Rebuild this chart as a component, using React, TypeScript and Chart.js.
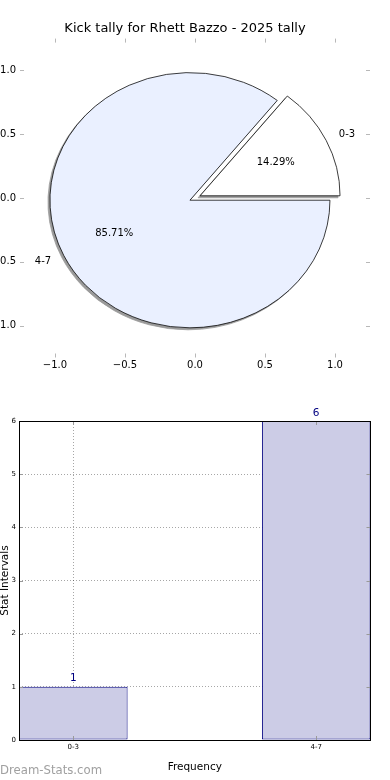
import { useEffect, useRef } from "react";
import { Chart, registerables } from "chart.js";

Chart.register(...registerables);

const FONT = "'DejaVu Sans', 'Liberation Sans', sans-serif";

// ---------------- data ----------------
const categories = ["0-3", "4-7"];
const counts = [1, 6];
const pieTitle = "Kick tally for Rhett Bazzo - 2025 tally";
const pieColors = ["#ffffff", "#eaf0ff"];
const barXLabel = "Frequency";
const barYLabel = "Stat Intervals";
const watermark = "Dream-Stats.com";
const pieAxisMin = -1.25;
const pieAxisMax = 1.25;
const pieAxisTicks = [-1.0, -0.5, 0.0, 0.5, 1.0];
const barYMin = 0;
const barYMax = 6;
const barYTicks = [0, 1, 2, 3, 4, 5, 6];

// ---------------- styles ----------------
const EXPLODE = 0.04; // fraction of radius
const PIE_R = 140;
const PIE_SY = 127.6 / 140;
const BAR_HALF = 0.2235;

// pie drawn counter-clockwise from 3 o'clock like the original: feed reversed order
const pieOrder = [1, 0];
const pieLabels = pieOrder.map((i) => categories[i]);
const pieValues = pieOrder.map((i) => counts[i]);
const pieBg = pieOrder.map((i) => pieColors[i]);

const fmtSigned = (v: number) => (v < 0 ? "\u2212" : "") + Math.abs(v).toFixed(1);

const innerTicks = (id: string, len: number, color: string) => ({
  id,
  afterDraw(chart: any) {
    const { ctx, chartArea } = chart;
    const { left, right, top, bottom } = chartArea;
    const xs = chart.scales.x;
    const ys = chart.scales.y;
    ctx.save();
    ctx.strokeStyle = color;
    ctx.lineWidth = 1;
    ctx.beginPath();
    xs.ticks.forEach((t: any) => {
      const p = Math.round(xs.getPixelForValue(t.value)) + 0.5;
      ctx.moveTo(p, top);
      ctx.lineTo(p, top + len);
      ctx.moveTo(p, bottom);
      ctx.lineTo(p, bottom - len);
    });
    ys.ticks.forEach((t: any) => {
      const p = Math.round(ys.getPixelForValue(t.value)) + 0.5;
      ctx.moveTo(left, p);
      ctx.lineTo(left + len, p);
      ctx.moveTo(right, p);
      ctx.lineTo(right - len, p);
    });
    ctx.stroke();
    ctx.restore();
  },
});

const pieTransform = (ctx: any, cx: number, cy: number, mid: number, e: number) => {
  ctx.translate(cx, cy);
  ctx.scale(1, PIE_SY);
  ctx.translate(Math.cos(mid) * e, Math.sin(mid) * e);
  ctx.translate(-cx, -cy);
};

const arcProps = (arc: any) =>
  arc.getProps(["x", "y", "startAngle", "endAngle", "outerRadius"], true);

const piePlugin = {
  id: "ellipsePie",
  beforeDatasetsDraw(chart: any) {
    const ctx = chart.ctx;
    const arcs = chart.getDatasetMeta(0).data;
    arcs.forEach((arc: any) => {
      const { x, y, startAngle, endAngle, outerRadius } = arcProps(arc);
      const mid = (startAngle + endAngle) / 2;
      ctx.save();
      ctx.translate(-10000, 0);
      ctx.shadowColor = "#9a9a9a";
      ctx.shadowOffsetX = 10000 - 2;
      ctx.shadowOffsetY = 2;
      ctx.shadowBlur = 0;
      pieTransform(ctx, x, y, mid, EXPLODE * outerRadius);
      arc.draw(ctx);
      ctx.restore();
    });
    arcs.forEach((arc: any) => {
      const { x, y, startAngle, endAngle, outerRadius } = arcProps(arc);
      const mid = (startAngle + endAngle) / 2;
      ctx.save();
      pieTransform(ctx, x, y, mid, EXPLODE * outerRadius);
      arc.draw(ctx);
      ctx.restore();
    });
    return false;
  },
  afterDraw(chart: any) {
    const ctx = chart.ctx;
    const arcs = chart.getDatasetMeta(0).data;
    const total = pieValues.reduce((a, b) => a + b, 0);
    ctx.save();
    ctx.fillStyle = "#000";
    ctx.font = `10px ${FONT}`;
    ctx.textBaseline = "middle";
    arcs.forEach((arc: any, i: number) => {
      const { x, y, startAngle, endAngle, outerRadius } = arcProps(arc);
      const mid = (startAngle + endAngle) / 2;
      const ux = Math.cos(mid);
      const uy = Math.sin(mid);
      const e = EXPLODE * outerRadius;
      const at = (f: number) => [
        x + (e + f * outerRadius) * ux,
        y + (e + f * outerRadius) * uy * PIE_SY,
      ];
      const [px, py] = at(0.6);
      ctx.textAlign = "center";
      ctx.fillText(((pieValues[i] / total) * 100).toFixed(2) + "%", px, py);
      const [lx, ly] = at(1.1);
      ctx.textAlign = ux >= 0 ? "left" : "right";
      ctx.fillText(pieLabels[i], lx, ly);
    });
    ctx.restore();
  },
};

const barDecor = {
  id: "barDecor",
  afterDraw(chart: any) {
    const { ctx, chartArea } = chart;
    const { left, right, top, bottom } = chartArea;
    ctx.save();
    ctx.strokeStyle = "#000";
    ctx.lineWidth = 1;
    ctx.strokeRect(left + 0.5, top + 0.5, right - left - 0.5, bottom - top);
    ctx.fillStyle = "#000080";
    ctx.font = `10.5px ${FONT}`;
    ctx.textAlign = "center";
    ctx.textBaseline = "alphabetic";
    chart.getDatasetMeta(0).data.forEach((bar: any, i: number) => {
      const { x, y } = bar.getProps(["x", "y"], true);
      ctx.fillText(String(counts[i]), x, y - 5.5);
    });
    ctx.fillStyle = "#a0a0a0";
    ctx.font = `11.7px ${FONT}`;
    ctx.textAlign = "left";
    ctx.fillText(watermark, 0, chart.height - 6.5);
    ctx.restore();
  },
};

export default function App() {
  const axesRef = useRef<HTMLCanvasElement>(null);
  const pieRef = useRef<HTMLCanvasElement>(null);
  const barRef = useRef<HTMLCanvasElement>(null);

  useEffect(() => {
    document.body.style.margin = "0";
    const tickFont = { family: FONT, size: 10 };
    const pieTicks = (s: any) => {
      s.ticks = pieAxisTicks.map((v) => ({ value: v }));
    };

    const axes = new Chart(axesRef.current as HTMLCanvasElement, {
      type: "scatter",
      data: { datasets: [{ data: [] }] },
      options: {
        responsive: false,
        animation: false,
        layout: { padding: { left: 0, right: 20, top: 0, bottom: 0 } },
        plugins: {
          legend: { display: false },
          tooltip: { enabled: false },
          title: {
            display: true,
            text: pieTitle,
            color: "#000",
            font: { family: FONT, size: 13, weight: "normal" },
            padding: { top: 21, bottom: 2 },
          },
        },
        scales: {
          x: {
            type: "linear",
            min: pieAxisMin,
            max: pieAxisMax,
            grid: { display: false, drawTicks: false },
            border: { display: false },
            afterBuildTicks: pieTicks,
            ticks: {
              autoSkip: false,
              maxRotation: 0,
              padding: 1.5,
              color: "#000",
              font: tickFont,
              callback: (v: any) => fmtSigned(Number(v)),
            },
            afterFit: (s: any) => {
              s.height = 22.5;
            },
          },
          y: {
            type: "linear",
            min: pieAxisMin,
            max: pieAxisMax,
            grid: { display: false, drawTicks: false },
            border: { display: false },
            afterBuildTicks: pieTicks,
            ticks: {
              autoSkip: false,
              padding: 4,
              color: "#000",
              font: tickFont,
              callback: (v: any) => fmtSigned(Number(v)),
            },
            afterFit: (s: any) => {
              s.width = 20;
            },
          },
        },
      } as any,
      plugins: [innerTicks("axTicks", 4, "#b8b8b8")],
    } as any);

    const pie = new Chart(pieRef.current as HTMLCanvasElement, {
      type: "pie",
      data: {
        labels: pieLabels,
        datasets: [
          {
            data: pieValues,
            backgroundColor: pieBg,
            borderColor: "#000",
            borderWidth: 0.8,
          },
        ],
      },
      options: {
        responsive: false,
        animation: false,
        radius: PIE_R,
        rotation: 90,
        layout: { padding: 0 },
        plugins: { legend: { display: false }, tooltip: { enabled: false } },
      } as any,
      plugins: [piePlugin],
    } as any);

    const barGrid = { color: "rgba(0,0,0,0.35)", lineWidth: 1, drawTicks: false, offset: false };
    const barBorder = { display: false, dash: [1, 2] };
    const barTickFont = { family: FONT, size: 7 };
    const bar = new Chart(barRef.current as HTMLCanvasElement, {
      type: "bar",
      data: {
        datasets: [
          {
            data: categories.map((_, i) => ({ x: i, y: counts[i] })),
            backgroundColor: "#ccccE6",
            borderColor: "#000080",
            borderWidth: 1,
            borderSkipped: false,
            barPercentage: 0.447,
            categoryPercentage: 1,
          },
        ],
      },
      options: {
        responsive: false,
        animation: false,
        layout: { padding: { left: 0, right: 19.5, top: 31, bottom: 0 } },
        plugins: { legend: { display: false }, tooltip: { enabled: false } },
        scales: {
          x: {
            type: "linear",
            offset: false,
            min: -BAR_HALF,
            max: categories.length - 1 + BAR_HALF,
            z: 1,
            grid: barGrid,
            border: barBorder,
            afterBuildTicks: (s: any) => {
              s.ticks = categories.map((_, i) => ({ value: i }));
            },
            ticks: {
              autoSkip: false,
              maxRotation: 0,
              padding: 3,
              color: "#000",
              font: barTickFont,
              callback: (v: any) => categories[Number(v)] ?? "",
            },
            title: {
              display: true,
              text: barXLabel,
              color: "#000",
              font: { family: FONT, size: 10.5 },
              padding: { top: 0, bottom: 6 },
            },
            afterFit: (s: any) => {
              s.height = 40;
            },
          },
          y: {
            type: "linear",
            min: barYMin,
            max: barYMax,
            z: 1,
            grid: barGrid,
            border: barBorder,
            afterBuildTicks: (s: any) => {
              s.ticks = barYTicks.map((v) => ({ value: v }));
            },
            ticks: {
              autoSkip: false,
              padding: 3,
              color: "#000",
              font: barTickFont,
            },
            title: {
              display: true,
              text: barYLabel,
              color: "#000",
              font: { family: FONT, size: 10.5 },
              padding: { top: -1.5, bottom: 0 },
            },
            afterFit: (s: any) => {
              s.width = 19;
            },
          },
        },
      } as any,
      plugins: [innerTicks("barTicks", 4, "#999999"), barDecor],
    } as any);

    return () => {
      axes.destroy();
      pie.destroy();
      bar.destroy();
    };
  }, []);

  return (
    <div style={{ position: "relative", width: 390, height: 780, background: "#fff", overflow: "hidden" }}>
      <canvas ref={axesRef} width={390} height={380} style={{ position: "absolute", left: 0, top: 0 }} />
      <canvas ref={pieRef} width={390} height={396} style={{ position: "absolute", left: 0, top: 0 }} />
      <canvas ref={barRef} width={390} height={390} style={{ position: "absolute", left: 0, top: 390 }} />
    </div>
  );
}
